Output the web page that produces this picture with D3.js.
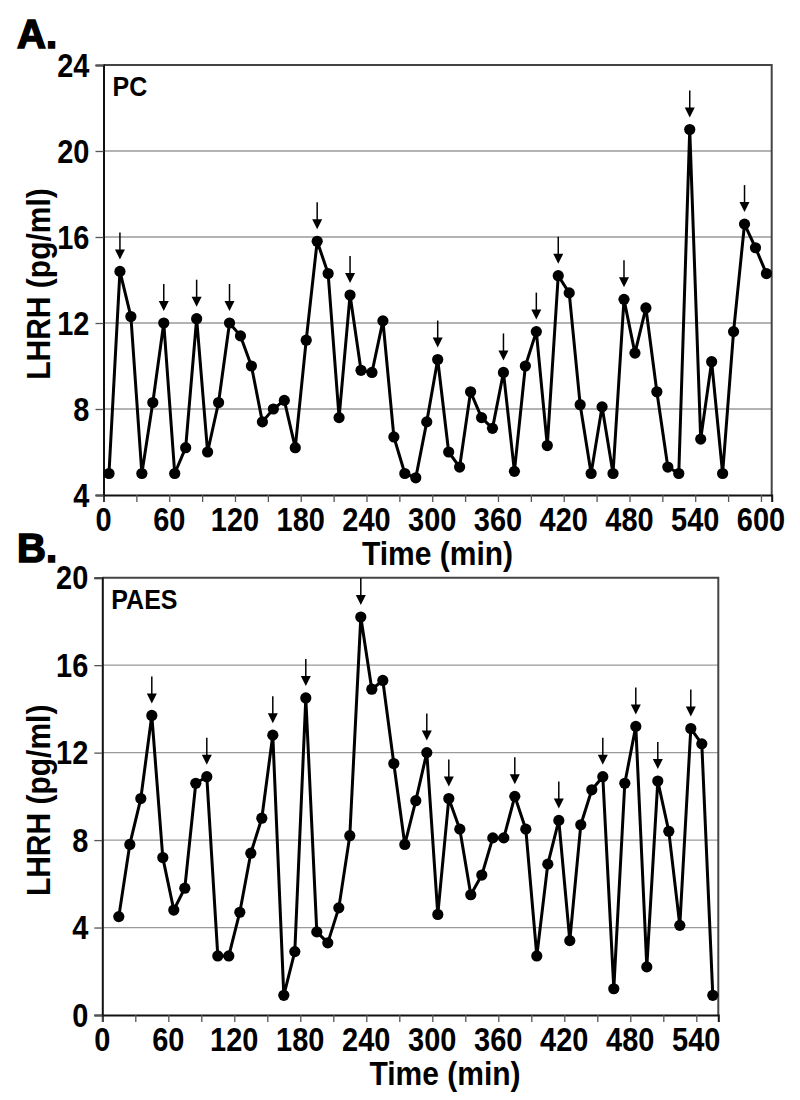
<!DOCTYPE html>
<html>
<head>
<meta charset="utf-8">
<script src="https://cdn.jsdelivr.net/npm/d3@7/dist/d3.min.js"></script>
<style>
  html, body { margin: 0; padding: 0; background: #fff; }
  svg { display: block; }
  text { font-family: "Liberation Sans", Arial, Helvetica, sans-serif; font-weight: bold; fill: #000; }
</style>
</head>
<body>
<svg id="chart" width="800" height="1100"></svg>
<script>
// ---------- Panel A (PC) ----------
const pcTimes = [5,15,25,35,45,55,65,75,85,95,105,115,125,135,145,155,165,175,185,195,
  205,215,225,235,245,255,265,275,285,295,305,315,325,335,345,355,365,375,385,395,
  405,415,425,435,445,455,465,475,485,495,505,515,525,535,545,555,565,575,585,595,605];
const pcValues = [5.0,14.4,12.3,5.0,8.3,12.0,5.0,6.2,12.2,6.0,8.3,12.0,11.4,10.0,7.4,8.0,8.4,6.2,11.2,15.8,
  14.3,7.6,13.3,9.8,9.7,12.1,6.7,5.0,4.8,7.4,10.3,6.0,5.3,8.8,7.6,7.1,9.7,5.1,10.0,11.6,
  6.3,14.2,13.4,8.2,5.0,8.1,5.0,13.1,10.6,12.7,8.8,5.3,5.0,21.0,6.6,10.2,5.0,11.6,16.6,15.5,14.3];
const pcPulseTimes = [15,55,85,115,195,225,305,365,395,415,475,535,585];
const pcYTicks = [4,8,12,16,20,24];
const pcXTicks = [0,30,60,90,120,150,180,210,240,270,300,330,360,390,420,450,480,510,540,570,600];
const pcXLabels = [0,60,120,180,240,300,360,420,480,540,600];

// ---------- Panel B (PAES) ----------
const paesTimes = [15,25,35,45,55,65,75,85,95,105,115,125,135,145,155,165,175,185,195,205,
  215,225,235,245,255,265,275,285,295,305,315,325,335,345,355,365,375,385,395,405,
  415,425,435,445,455,465,475,485,495,505,515,525,535,545,555];
const paesValues = [4.5,7.8,9.9,13.7,7.2,4.8,5.8,10.6,10.9,2.7,2.7,4.7,7.4,9.0,12.8,0.9,2.9,14.5,3.8,3.3,
  4.9,8.2,18.2,14.9,15.3,11.5,7.8,9.8,12.0,4.6,9.9,8.5,5.5,6.4,8.1,8.1,10.0,8.5,2.7,6.9,
  8.9,3.4,8.7,10.3,10.9,1.2,10.6,13.2,2.2,10.7,8.4,4.1,13.1,12.4,0.9];
const paesPulseTimes = [45,95,155,185,235,295,315,375,415,455,485,505,535];
const paesYTicks = [0,4,8,12,16,20];
const paesXTicks = [0,30,60,90,120,150,180,210,240,270,300,330,360,390,420,450,480,510,540];
const paesXLabels = [0,60,120,180,240,300,360,420,480,540];

const svg = d3.select("#chart");

function drawPanel(cfg) {
  const x = d3.scaleLinear().domain(cfg.xDomain).range([cfg.left, cfg.right]);
  const y = d3.scaleLinear().domain(cfg.yDomain).range([cfg.bottom, cfg.top]);
  const g = svg.append("g");

  // gridlines
  g.selectAll("line.grid")
    .data(cfg.yTicks.filter(v => v !== cfg.yDomain[0] && v !== cfg.yDomain[1]))
    .join("line")
    .attr("x1", cfg.left).attr("x2", cfg.right)
    .attr("y1", d => y(d)).attr("y2", d => y(d))
    .attr("stroke", "#9a9a9a").attr("stroke-width", 1.3);

  // frame (top + right)
  g.append("path")
    .attr("d", `M${cfg.left},${cfg.top}H${cfg.right}V${cfg.bottom}`)
    .attr("fill", "none").attr("stroke", "#444").attr("stroke-width", 2);

  // x axis
  const xAxis = d3.axisBottom(x).tickValues(cfg.xTicks).tickSize(7).tickFormat("");
  const gx = g.append("g").attr("transform", `translate(0,${cfg.bottom})`).call(xAxis);
  gx.select(".domain").attr("stroke", "#111").attr("stroke-width", 2);
  gx.selectAll(".tick line").attr("stroke", "#555").attr("stroke-width", 1.3);

  g.selectAll("text.xl").data(cfg.xLabels).join("text")
    .attr("transform", d => `translate(${x(d)},${cfg.bottom + 36}) scale(1,1.12)`)
    .attr("text-anchor", "middle").attr("font-size", 29)
    .text(d => d);

  // y axis
  const yAxis = d3.axisLeft(y).tickValues(cfg.yTicks).tickSize(8).tickFormat("");
  const gy = g.append("g").attr("transform", `translate(${cfg.left},0)`).call(yAxis);
  gy.select(".domain").attr("stroke", "#111").attr("stroke-width", 2);
  gy.selectAll(".tick line").attr("stroke", "#555").attr("stroke-width", 1.3);

  g.selectAll("text.yl").data(cfg.yTicks).join("text")
    .attr("transform", d => `translate(${cfg.left - 14},${y(d) + 11.5}) scale(1,1.12)`)
    .attr("text-anchor", "end").attr("font-size", 29)
    .text(d => d);

  // axis titles
  g.append("text")
    .attr("transform", `translate(${cfg.xTitleX},${cfg.xTitleY}) scale(1,1.08)`)
    .attr("text-anchor", "middle").attr("font-size", 30)
    .text("Time (min)");
  g.append("text")
    .attr("transform", `translate(50,${(cfg.top + cfg.bottom) / 2 + 4}) rotate(-90) scale(1,1.1)`)
    .attr("text-anchor", "middle").attr("font-size", 30)
    .text("LHRH (pg/ml)");

  // panel letter and group label
  g.append("text")
    .attr("x", 17).attr("y", cfg.letterY)
    .attr("font-size", 40).attr("stroke", "#000").attr("stroke-width", 1.6)
    .text(cfg.letter);
  g.append("text")
    .attr("transform", `translate(${cfg.left + 9},${cfg.top + 31}) scale(1,1.1)`)
    .attr("font-size", 25)
    .text(cfg.group);

  // series line
  const pts = cfg.times.map((t, i) => [t, cfg.values[i]]);
  g.append("path")
    .datum(pts)
    .attr("d", d3.line().x(d => x(d[0])).y(d => y(d[1])))
    .attr("fill", "none").attr("stroke", "#000").attr("stroke-width", 3)
    .attr("stroke-linejoin", "round");

  g.selectAll("circle.pt").data(pts).join("circle")
    .attr("cx", d => x(d[0])).attr("cy", d => y(d[1]))
    .attr("r", 5.6).attr("fill", "#000");

  // pulse arrows
  const pulses = cfg.pulseTimes.map(t => [t, cfg.values[cfg.times.indexOf(t)]]);
  const ag = g.selectAll("g.arrow").data(pulses).join("g")
    .attr("transform", d => `translate(${x(d[0])},${y(d[1]) - 12})`);
  ag.append("line")
    .attr("x1", 0).attr("x2", 0).attr("y1", -27).attr("y2", -8)
    .attr("stroke", "#000").attr("stroke-width", 1.5);
  ag.append("path")
    .attr("d", "M-5,-10L5,-10L0,0Z").attr("fill", "#000");
}

drawPanel({
  letter: "A.", letterY: 48, group: "PC",
  left: 103.5, right: 771.7, top: 65, bottom: 495,
  xDomain: [0, 609.8], yDomain: [4, 24],
  xTicks: pcXTicks, xLabels: pcXLabels, yTicks: pcYTicks,
  times: pcTimes, values: pcValues, pulseTimes: pcPulseTimes,
  xTitleX: 437.5, xTitleY: 565
});

drawPanel({
  letter: "B.", letterY: 562, group: "PAES",
  left: 102.3, right: 718.3, top: 577.7, bottom: 1015,
  xDomain: [0, 560], yDomain: [0, 20],
  xTicks: paesXTicks, xLabels: paesXLabels, yTicks: paesYTicks,
  times: paesTimes, values: paesValues, pulseTimes: paesPulseTimes,
  xTitleX: 445, xTitleY: 1085
});
</script>
</body>
</html>
